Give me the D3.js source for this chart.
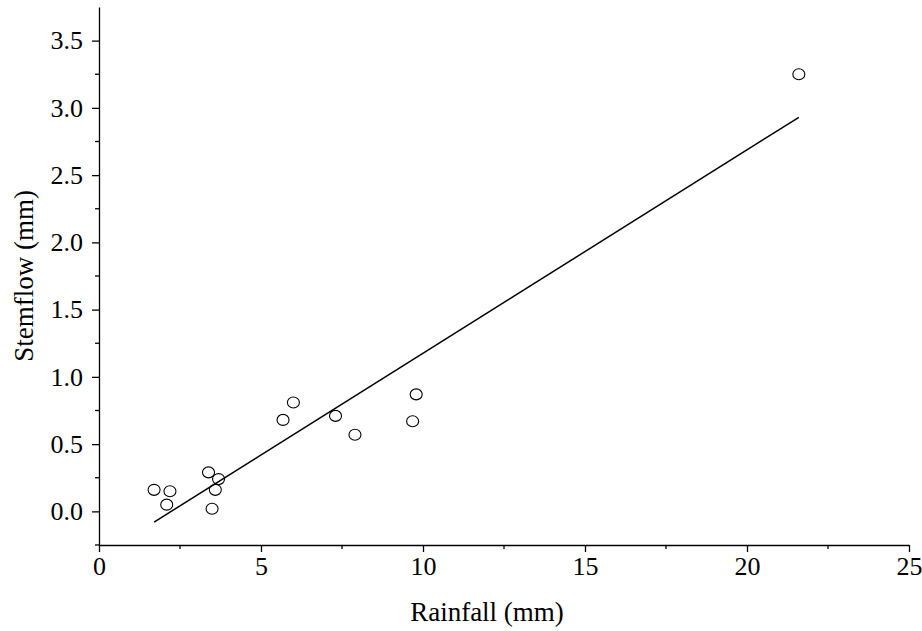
<!DOCTYPE html>
<html><head><meta charset="utf-8">
<script src="https://cdn.jsdelivr.net/npm/d3@7"></script>
<style>body{margin:0;background:#fff}text{font-family:"Liberation Serif","Times New Roman",serif}</style>
</head><body><svg id="chart" width="922" height="631"></svg>
<script>
// observed points (rainfall, stemflow)
const rainfall = [1.70, 2.19, 2.09, 3.38, 3.49, 3.59, 3.69, 5.68, 6.00, 7.30, 7.90, 9.68, 9.79, 21.6];
const stemflow = [0.16, 0.15, 0.05, 0.29, 0.02, 0.16, 0.24, 0.68, 0.81, 0.71, 0.57, 0.67, 0.87, 3.25];
// fitted line endpoints
const fitX = [1.70, 21.6];
const fitY = [-0.08, 2.93];
const xTicks = [0, 5, 10, 15, 20, 25];
const yTicks = [0, 0.5, 1, 1.5, 2, 2.5, 3, 3.5];

const m = {left: 99, top: 7, right: 13, bottom: 86};
const W = 922, H = 631;
const svg = d3.select("#chart");
const x = d3.scaleLinear().domain([0, 25]).range([m.left, W - m.right]);
const y = d3.scaleLinear().domain([-0.25, 3.75]).range([H - m.bottom, m.top]);

// minor ticks
const xMinor = d3.range(2.5, 25, 5);
const yMinor = d3.range(-0.25, 3.75, 0.5);

const xAxis = svg.append("g").attr("transform", `translate(0,${y(-0.25)})`)
  .call(d3.axisBottom(x).tickValues(xTicks).tickFormat(d3.format("d")).tickSizeInner(7).tickSizeOuter(0).tickPadding(5));
svg.append("g").attr("transform", `translate(0,${y(-0.25)})`)
  .selectAll("line").data(xMinor).join("line")
  .attr("x1", d => x(d)).attr("x2", d => x(d)).attr("y1", 0).attr("y2", 4).attr("stroke", "#000").attr("stroke-width", 1.3);

const yAxis = svg.append("g").attr("transform", `translate(${x(0)},0)`)
  .call(d3.axisLeft(y).tickValues(yTicks).tickFormat(d3.format(".1f")).tickSizeInner(7).tickSizeOuter(0).tickPadding(9));
svg.append("g").attr("transform", `translate(${x(0)},0)`)
  .selectAll("line").data(yMinor).join("line")
  .attr("y1", d => y(d)).attr("y2", d => y(d)).attr("x1", 0).attr("x2", -4).attr("stroke", "#000").attr("stroke-width", 1.3);

[xAxis, yAxis].forEach(a => {
  a.selectAll("path,line").attr("stroke", "#000").attr("stroke-width", 1.3);
  a.selectAll("text").attr("font-size", 26).attr("fill", "#000")
   .style("font-family", '"Liberation Serif","Times New Roman",serif');
});

svg.append("text").attr("x", 487).attr("y", 621).attr("text-anchor", "middle")
  .attr("font-size", 27).text("Rainfall (mm)");
svg.append("text").attr("transform", `translate(33,${y(1.75)}) rotate(-90)`).attr("text-anchor", "middle")
  .attr("font-size", 27).text("Stemflow (mm)");

svg.append("line").attr("x1", x(fitX[0])).attr("y1", y(fitY[0])).attr("x2", x(fitX[1])).attr("y2", y(fitY[1]))
  .attr("stroke", "#000").attr("stroke-width", 1.5);

svg.append("g").selectAll("ellipse").data(rainfall.map((r, i) => [r, stemflow[i]])).join("ellipse")
  .attr("cx", d => x(d[0])).attr("cy", d => y(d[1])).attr("rx", 6).attr("ry", 5.5)
  .attr("fill", "none").attr("stroke", "#000").attr("stroke-width", 1.1);
</script></body></html>
